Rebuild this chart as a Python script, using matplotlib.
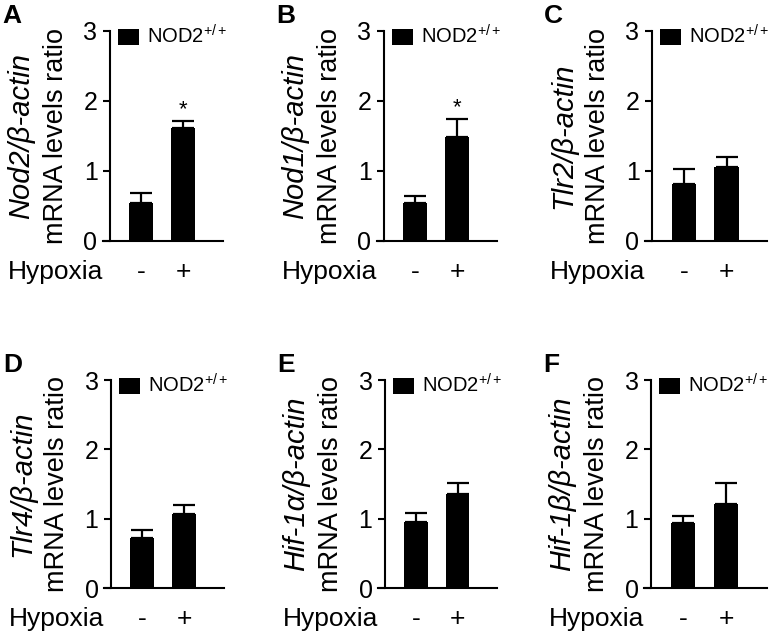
import matplotlib
matplotlib.use('Agg')
import matplotlib.pyplot as plt
from matplotlib.transforms import offset_copy, blended_transform_factory

plt.rcParams['font.family'] = ['Liberation Sans', 'DejaVu Sans']
plt.rcParams['mathtext.fontset'] = 'custom'
plt.rcParams['mathtext.rm'] = 'Liberation Sans'
plt.rcParams['mathtext.it'] = 'Liberation Sans:italic'

# Panel data
letters = ['A', 'B', 'C', 'D', 'E', 'F']
genes = ['Nod2/β-actin', 'Nod1/β-actin', 'Tlr2/β-actin',
         'Tlr4/β-actin', 'Hif-1α/β-actin', 'Hif-1β/β-actin']
hypoxia = ['-', '+']
means_a = [0.54, 1.61]
sems_a = [0.15, 0.10]
means_b = [0.55, 1.49]
sems_b = [0.10, 0.25]
means_c = [0.81, 1.06]
sems_c = [0.22, 0.14]
means_d = [0.72, 1.07]
sems_d = [0.12, 0.13]
means_e = [0.95, 1.35]
sems_e = [0.13, 0.16]
means_f = [0.94, 1.21]
sems_f = [0.10, 0.30]
signif = [['', '*'], ['', '*'], ['', ''], ['', ''], ['', ''], ['', '']]

all_means = [means_a, means_b, means_c, means_d, means_e, means_f]
all_sems = [sems_a, sems_b, sems_c, sems_d, sems_e, sems_f]

W, H = 775, 640
fig = plt.figure(figsize=(W / 100, H / 100), dpi=100)

# axes boxes in pixels: left, right, top, bottom
boxes = [(110, 223, 31, 241), (384, 497, 31, 241), (652, 767, 31, 241),
         (111, 224, 380, 588), (385, 497, 380, 588), (651, 767, 380, 588)]

for i in range(6):
    l, r, t, b = boxes[i]
    ax = fig.add_axes([l / W, (H - b) / H, (r - l) / W, (b - t) / H])
    x = [0, 1]
    means = all_means[i]
    sems = all_sems[i]
    ax.bar(x, means, width=0.57, color='black', label='NOD2$^{+/+}$', zorder=3)
    ax.errorbar(x, means, yerr=[[0, 0], sems], fmt='none', ecolor='black',
                elinewidth=1.6, capsize=8, capthick=1.6, zorder=2)
    for j in range(2):
        if signif[i][j]:
            ax.text(x[j], means[j] + sems[j] + 0.01, signif[i][j],
                    ha='center', va='bottom', fontsize=16)

    ax.set_xlim(-0.75, 1.95)
    ax.set_ylim(0, 3)
    ax.set_yticks([0, 1, 2, 3])
    ax.set_xticks([])
    ax.tick_params(axis='y', length=5, width=1.5, labelsize=18, pad=4)
    for s in ['top', 'right']:
        ax.spines[s].set_visible(False)
    for s in ['left', 'bottom']:
        ax.spines[s].set_linewidth(1.5)
    ax.spines['bottom'].set_bounds(-0.75 - 7 / 42, 1.95)
    ax.spines['bottom'].set_clip_on(False)

    # Hypoxia -/+ row
    bt = blended_transform_factory(ax.transData, ax.transAxes)
    bt = offset_copy(bt, fig=fig, x=0, y=-38, units='dots')
    for j in range(2):
        ax.text(x[j], 0, hypoxia[j], transform=bt, ha='center',
                va='baseline', fontsize=19)
    trans3 = offset_copy(ax.transAxes, fig=fig, x=-102, y=-38, units='dots')
    ax.text(0, 0, 'Hypoxia', transform=trans3, ha='left', va='baseline',
            fontsize=19)

    # two-line y label
    trans = offset_copy(ax.transAxes, fig=fig, x=-89, y=0, units='dots')
    ax.text(0, 0.5, genes[i], transform=trans, rotation=90, style='italic',
            ha='center', va='center', fontsize=21)
    trans2 = offset_copy(ax.transAxes, fig=fig, x=-54, y=0, units='dots')
    ax.text(0, 0.5, 'mRNA levels ratio', transform=trans2, rotation=90,
            ha='center', va='center', fontsize=19.5)

    # panel letter
    fig.text((l - 108) / W, (H - t + 27) / H, letters[i], fontsize=19,
             fontweight='bold', ha='left', va='top')

    ax.legend(loc='upper left', bbox_to_anchor=(0.07, 1.03), frameon=False,
              fontsize=14.5, handlelength=1.05, handleheight=0.8,
              handletextpad=0.4, borderaxespad=0, borderpad=0)

fig.savefig('out.png', dpi=100)
